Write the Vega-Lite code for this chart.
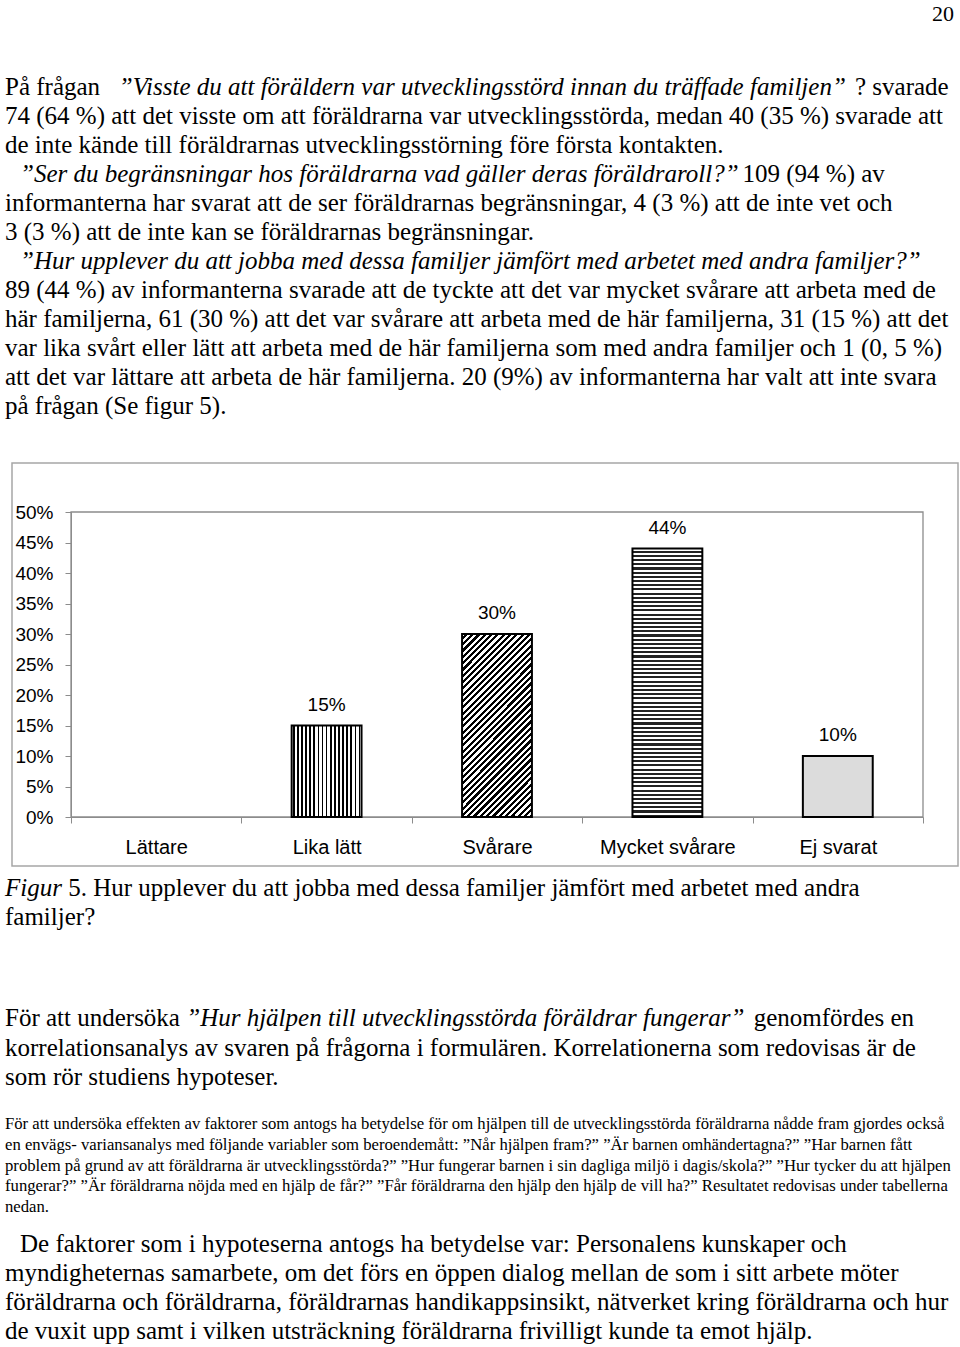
{
"$schema": "https://vega.github.io/schema/vega-lite/v6.json",
"width": 960,
"height": 1347,
"autosize": {"type": "none"},
"padding": 0,
"background": "#ffffff",
"config": {"view": {"stroke": null}},
"datasets": {
"sidnr": [{"text": "20"}],
"s1_vanlig": [
{"rad": 1, "text": "På frågan"},
{"rad": 2, "text": "74 (64 %) att det visste om att föräldrarna var utvecklingsstörda, medan 40 (35 %) svarade att"},
{"rad": 3, "text": "de inte kände till föräldrarnas utvecklingsstörning före första kontakten."},
{"rad": 5, "text": "informanterna har svarat att de ser föräldrarnas begränsningar, 4 (3 %) att de inte vet och"},
{"rad": 6, "text": "3 (3 %) att de inte kan se föräldrarnas begränsningar."},
{"rad": 8, "text": "89 (44 %) av informanterna svarade att de tyckte att det var mycket svårare att arbeta med de"},
{"rad": 9, "text": "här familjerna, 61 (30 %) att det var svårare att arbeta med de här familjerna, 31 (15 %) att det"},
{"rad": 10, "text": "var lika svårt eller lätt att arbeta med de här familjerna som med andra familjer och 1 (0, 5 %)"},
{"rad": 11, "text": "att det var lättare att arbeta de här familjerna. 20 (9%) av informanterna har valt att inte svara"},
{"rad": 12, "text": "på frågan (Se figur 5)."}
],
"s1_fraga": [
{"rad": 4, "text": "”Ser du begränsningar hos föräldrarna vad gäller deras föräldraroll?”"},
{"rad": 7, "text": "”Hur upplever du att jobba med dessa familjer jämfört med arbetet med andra familjer?”"}
],
"s1_r1_fraga": [{"rad": 1, "text": "”Visste du att föräldern var utvecklingsstörd innan du träffade familjen”"}],
"s1_r1_slut": [{"rad": 1, "text": "? svarade"}],
"s1_r4_slut": [{"rad": 4, "text": "109 (94 %) av"}],
"fig_kursiv": [{"rad": 1, "text": "Figur"}],
"fig_text": [{"rad": 1, "text": "5. Hur upplever du att jobba med dessa familjer jämfört med arbetet med andra"}],
"fig_vanlig": [{"rad": 2, "text": "familjer?"}],
"s3_vanlig": [
{"rad": 1, "text": "För att undersöka"},
{"rad": 2, "text": "korrelationsanalys av svaren på frågorna i formulären. Korrelationerna som redovisas är de"},
{"rad": 3, "text": "som rör studiens hypoteser."}
],
"s3_fraga": [{"rad": 1, "text": "”Hur hjälpen till utvecklingsstörda föräldrar fungerar”"}],
"s3_slut": [{"rad": 1, "text": "genomfördes en"}],
"fot": [
{"rad": 1, "text": "För att undersöka effekten av faktorer som antogs ha betydelse för om hjälpen till de utvecklingsstörda föräldrarna nådde fram gjordes också"},
{"rad": 2, "text": "en envägs- variansanalys med följande variabler som beroendemått: ”Når hjälpen fram?” ”Är barnen omhändertagna?” ”Har barnen fått"},
{"rad": 3, "text": "problem på grund av att föräldrarna är utvecklingsstörda?” ”Hur fungerar barnen i sin dagliga miljö i dagis/skola?” ”Hur tycker du att hjälpen"},
{"rad": 4, "text": "fungerar?” ”Är föräldrarna nöjda med en hjälp de får?” ”Får föräldrarna den hjälp den hjälp de vill ha?” Resultatet redovisas under tabellerna"},
{"rad": 5, "text": "nedan."}
],
"s5_indrag": [{"rad": 1, "text": "De faktorer som i hypoteserna antogs ha betydelse var: Personalens kunskaper och"}],
"s5_vanlig": [
{"rad": 2, "text": "myndigheternas samarbete, om det förs en öppen dialog mellan de som i sitt arbete möter"},
{"rad": 3, "text": "föräldrarna och föräldrarna, föräldrarnas handikappsinsikt, nätverket kring föräldrarna och hur"},
{"rad": 4, "text": "de vuxit upp samt i vilken utsträckning föräldrarna frivilligt kunde ta emot hjälp."}
],
"diagram": [
{"svar": "Lättare", "andel": 0},
{"svar": "Lika lätt", "andel": 0.15},
{"svar": "Svårare", "andel": 0.30},
{"svar": "Mycket svårare", "andel": 0.44},
{"svar": "Ej svarat", "andel": 0.10}
]
},
"resolve": {"scale": {"x": "independent", "y": "independent"}},
"layer": [
{
"data": {"name": "sidnr"},
"mark": {"type": "text", "align": "right", "baseline": "middle", "font": "Liberation Serif", "fontSize": 22, "fill": "#000"},
"encoding": {
"x": {"datum": 1, "type": "quantitative", "scale": {"domain": [0, 1], "range": [0, 954], "nice": false, "zero": false}, "axis": null},
"y": {"datum": 1, "type": "quantitative", "scale": {"domain": [0, 1], "range": [0, 14], "nice": false, "zero": false}, "axis": null},
"text": {"field": "text", "type": "nominal"}
}
},
{
"data": {"name": "s1_vanlig"},
"mark": {"type": "text", "align": "left", "baseline": "middle", "font": "Liberation Serif", "fontSize": 25, "fill": "#000"},
"encoding": {
"x": {"datum": 0, "type": "quantitative", "scale": {"domain": [0, 37.8], "range": [5, 950], "nice": false, "zero": false}, "axis": null},
"y": {"field": "rad", "type": "quantitative", "scale": {"domain": [1, 12], "range": [87, 406], "nice": false, "zero": false}, "axis": null},
"text": {"field": "text", "type": "nominal"}
}
},
{
"data": {"name": "s1_fraga"},
"mark": {"type": "text", "align": "left", "baseline": "middle", "font": "Liberation Serif", "fontSize": 25, "fontStyle": "italic", "fill": "#000"},
"encoding": {
"x": {"datum": 0.6, "type": "quantitative", "scale": {"domain": [0, 37.8], "range": [5, 950], "nice": false, "zero": false}, "axis": null},
"y": {"field": "rad", "type": "quantitative", "scale": {"domain": [1, 12], "range": [87, 406], "nice": false, "zero": false}, "axis": null},
"text": {"field": "text", "type": "nominal"}
}
},
{
"data": {"name": "s1_r1_fraga"},
"mark": {"type": "text", "align": "left", "baseline": "middle", "font": "Liberation Serif", "fontSize": 25, "fontStyle": "italic", "fill": "#000"},
"encoding": {
"x": {"datum": 4.55, "type": "quantitative", "scale": {"domain": [0, 37.8], "range": [5, 950], "nice": false, "zero": false}, "axis": null},
"y": {"field": "rad", "type": "quantitative", "scale": {"domain": [1, 12], "range": [87, 406], "nice": false, "zero": false}, "axis": null},
"text": {"field": "text", "type": "nominal"}
}
},
{
"data": {"name": "s1_r1_slut"},
"mark": {"type": "text", "align": "left", "baseline": "middle", "font": "Liberation Serif", "fontSize": 25, "fill": "#000"},
"encoding": {
"x": {"datum": 34.0, "type": "quantitative", "scale": {"domain": [0, 37.8], "range": [5, 950], "nice": false, "zero": false}, "axis": null},
"y": {"field": "rad", "type": "quantitative", "scale": {"domain": [1, 12], "range": [87, 406], "nice": false, "zero": false}, "axis": null},
"text": {"field": "text", "type": "nominal"}
}
},
{
"data": {"name": "s1_r4_slut"},
"mark": {"type": "text", "align": "left", "baseline": "middle", "font": "Liberation Serif", "fontSize": 25, "fill": "#000"},
"encoding": {
"x": {"datum": 29.5, "type": "quantitative", "scale": {"domain": [0, 37.8], "range": [5, 950], "nice": false, "zero": false}, "axis": null},
"y": {"field": "rad", "type": "quantitative", "scale": {"domain": [1, 12], "range": [87, 406], "nice": false, "zero": false}, "axis": null},
"text": {"field": "text", "type": "nominal"}
}
},
{
"data": {"name": "fig_kursiv"},
"mark": {"type": "text", "align": "left", "baseline": "middle", "font": "Liberation Serif", "fontSize": 25, "fontStyle": "italic", "fill": "#000"},
"encoding": {
"x": {"datum": 0, "type": "quantitative", "scale": {"domain": [0, 37.8], "range": [5, 950], "nice": false, "zero": false}, "axis": null},
"y": {"field": "rad", "type": "quantitative", "scale": {"domain": [1, 2], "range": [888, 917], "nice": false, "zero": false}, "axis": null},
"text": {"field": "text", "type": "nominal"}
}
},
{
"data": {"name": "fig_text"},
"mark": {"type": "text", "align": "left", "baseline": "middle", "font": "Liberation Serif", "fontSize": 25, "fill": "#000"},
"encoding": {
"x": {"datum": 2.528, "type": "quantitative", "scale": {"domain": [0, 37.8], "range": [5, 950], "nice": false, "zero": false}, "axis": null},
"y": {"field": "rad", "type": "quantitative", "scale": {"domain": [1, 2], "range": [888, 917], "nice": false, "zero": false}, "axis": null},
"text": {"field": "text", "type": "nominal"}
}
},
{
"data": {"name": "fig_vanlig"},
"mark": {"type": "text", "align": "left", "baseline": "middle", "font": "Liberation Serif", "fontSize": 25, "fill": "#000"},
"encoding": {
"x": {"datum": 0, "type": "quantitative", "scale": {"domain": [0, 37.8], "range": [5, 950], "nice": false, "zero": false}, "axis": null},
"y": {"field": "rad", "type": "quantitative", "scale": {"domain": [1, 2], "range": [888, 917], "nice": false, "zero": false}, "axis": null},
"text": {"field": "text", "type": "nominal"}
}
},
{
"data": {"name": "s3_vanlig"},
"mark": {"type": "text", "align": "left", "baseline": "middle", "font": "Liberation Serif", "fontSize": 25, "fill": "#000"},
"encoding": {
"x": {"datum": 0, "type": "quantitative", "scale": {"domain": [0, 37.8], "range": [5, 950], "nice": false, "zero": false}, "axis": null},
"y": {"field": "rad", "type": "quantitative", "scale": {"domain": [1, 3], "range": [1018, 1077], "nice": false, "zero": false}, "axis": null},
"text": {"field": "text", "type": "nominal"}
}
},
{
"data": {"name": "s3_fraga"},
"mark": {"type": "text", "align": "left", "baseline": "middle", "font": "Liberation Serif", "fontSize": 25, "fontStyle": "italic", "fill": "#000"},
"encoding": {
"x": {"datum": 7.249, "type": "quantitative", "scale": {"domain": [0, 37.8], "range": [5, 950], "nice": false, "zero": false}, "axis": null},
"y": {"field": "rad", "type": "quantitative", "scale": {"domain": [1, 3], "range": [1018, 1077], "nice": false, "zero": false}, "axis": null},
"text": {"field": "text", "type": "nominal"}
}
},
{
"data": {"name": "s3_slut"},
"mark": {"type": "text", "align": "left", "baseline": "middle", "font": "Liberation Serif", "fontSize": 25, "fill": "#000"},
"encoding": {
"x": {"datum": 29.95, "type": "quantitative", "scale": {"domain": [0, 37.8], "range": [5, 950], "nice": false, "zero": false}, "axis": null},
"y": {"field": "rad", "type": "quantitative", "scale": {"domain": [1, 3], "range": [1018, 1077], "nice": false, "zero": false}, "axis": null},
"text": {"field": "text", "type": "nominal"}
}
},
{
"data": {"name": "fot"},
"mark": {"type": "text", "align": "left", "baseline": "middle", "font": "Liberation Serif", "fontSize": 16.7, "fill": "#000"},
"encoding": {
"x": {"datum": 0, "type": "quantitative", "scale": {"domain": [0, 37.8], "range": [5, 950], "nice": false, "zero": false}, "axis": null},
"y": {"field": "rad", "type": "quantitative", "scale": {"domain": [1, 5], "range": [1124, 1207], "nice": false, "zero": false}, "axis": null},
"text": {"field": "text", "type": "nominal"}
}
},
{
"data": {"name": "s5_indrag"},
"mark": {"type": "text", "align": "left", "baseline": "middle", "font": "Liberation Serif", "fontSize": 25, "fill": "#000"},
"encoding": {
"x": {"datum": 0.6, "type": "quantitative", "scale": {"domain": [0, 37.8], "range": [5, 950], "nice": false, "zero": false}, "axis": null},
"y": {"field": "rad", "type": "quantitative", "scale": {"domain": [1, 4], "range": [1244, 1331], "nice": false, "zero": false}, "axis": null},
"text": {"field": "text", "type": "nominal"}
}
},
{
"data": {"name": "s5_vanlig"},
"mark": {"type": "text", "align": "left", "baseline": "middle", "font": "Liberation Serif", "fontSize": 25, "fill": "#000"},
"encoding": {
"x": {"datum": 0, "type": "quantitative", "scale": {"domain": [0, 37.8], "range": [5, 950], "nice": false, "zero": false}, "axis": null},
"y": {"field": "rad", "type": "quantitative", "scale": {"domain": [1, 4], "range": [1244, 1331], "nice": false, "zero": false}, "axis": null},
"text": {"field": "text", "type": "nominal"}
}
},
{
"data": {"values": [{}]},
"mark": {"type": "rect", "fill": "#ffffff", "fillOpacity": 0, "stroke": "#a6a6a6", "strokeWidth": 1.5},
"encoding": {
"x": {"datum": 0, "type": "quantitative", "scale": {"domain": [0, 1], "range": [12, 958], "nice": false, "zero": false}, "axis": null},
"x2": {"datum": 1},
"y": {"datum": 0, "type": "quantitative", "scale": {"domain": [0, 1], "range": [463, 866], "nice": false, "zero": false}, "axis": null},
"y2": {"datum": 1}
}
},
{
"data": {"values": [{}]},
"mark": {"type": "rect", "fill": "#ffffff", "fillOpacity": 0, "stroke": "#8c8c8c", "strokeWidth": 1.3},
"encoding": {
"x": {"datum": 0, "type": "quantitative", "scale": {"domain": [0, 1], "range": [71, 923], "nice": false, "zero": false}, "axis": null},
"x2": {"datum": 1},
"y": {"datum": 0, "type": "quantitative", "scale": {"domain": [0, 1], "range": [817, 512], "nice": false, "zero": false}, "axis": null},
"y2": {"datum": 1}
}
},
{
"data": {"name": "diagram"},
"encoding": {
"x": {"field": "svar", "type": "nominal", "sort": null,
"scale": {"type": "band", "domain": ["Lättare", "Lika lätt", "Svårare", "Mycket svårare", "Ej svarat"], "range": [71, 923], "paddingInner": 0, "paddingOuter": 0},
"axis": {"title": null, "orient": "bottom", "offset": -530, "tickBand": "extent", "labelAngle": 0, "labelFont": "Liberation Sans", "labelFontSize": 20, "labelColor": "#000", "labelPadding": 24, "labelBaseline": "middle", "tickSize": 6, "tickColor": "#8c8c8c", "domainColor": "#8c8c8c", "grid": false}},
"y": {"field": "andel", "type": "quantitative",
"scale": {"domain": [0, 0.5], "range": [817, 512], "nice": false, "zero": false},
"axis": {"title": null, "orient": "left", "offset": -71, "values": [0, 0.05, 0.1, 0.15, 0.2, 0.25, 0.3, 0.35, 0.4, 0.45, 0.5], "format": ".0%", "labelFont": "Liberation Sans", "labelFontSize": 19, "labelColor": "#000", "labelPadding": 12, "tickSize": 6, "tickColor": "#8c8c8c", "domainColor": "#8c8c8c", "grid": false}}
},
"layer": [
{
"transform": [{"filter": "datum.svar === 'Lika lätt'"}],
"mark": {"type": "bar", "width": {"band": 0.41}, "stroke": "#000", "strokeWidth": 2,
"fill": {"gradient": "linear", "x1": 0, "y1": 0, "x2": 1, "y2": 0, "stops": [
{"offset": 0, "color": "#fff"},
{"offset": 0.0176, "color": "#fff"}, {"offset": 0.0176, "color": "#000"}, {"offset": 0.0412, "color": "#000"}, {"offset": 0.0412, "color": "#fff"},
{"offset": 0.0765, "color": "#fff"}, {"offset": 0.0765, "color": "#000"}, {"offset": 0.1, "color": "#000"}, {"offset": 0.1, "color": "#fff"},
{"offset": 0.1353, "color": "#fff"}, {"offset": 0.1353, "color": "#000"}, {"offset": 0.1588, "color": "#000"}, {"offset": 0.1588, "color": "#fff"},
{"offset": 0.1941, "color": "#fff"}, {"offset": 0.1941, "color": "#000"}, {"offset": 0.2176, "color": "#000"}, {"offset": 0.2176, "color": "#fff"},
{"offset": 0.2529, "color": "#fff"}, {"offset": 0.2529, "color": "#000"}, {"offset": 0.2765, "color": "#000"}, {"offset": 0.2765, "color": "#fff"},
{"offset": 0.3118, "color": "#fff"}, {"offset": 0.3118, "color": "#000"}, {"offset": 0.3353, "color": "#000"}, {"offset": 0.3353, "color": "#fff"},
{"offset": 0.3706, "color": "#fff"}, {"offset": 0.3706, "color": "#000"}, {"offset": 0.3941, "color": "#000"}, {"offset": 0.3941, "color": "#fff"},
{"offset": 0.4294, "color": "#fff"}, {"offset": 0.4294, "color": "#000"}, {"offset": 0.4529, "color": "#000"}, {"offset": 0.4529, "color": "#fff"},
{"offset": 0.4882, "color": "#fff"}, {"offset": 0.4882, "color": "#000"}, {"offset": 0.5118, "color": "#000"}, {"offset": 0.5118, "color": "#fff"},
{"offset": 0.5471, "color": "#fff"}, {"offset": 0.5471, "color": "#000"}, {"offset": 0.5706, "color": "#000"}, {"offset": 0.5706, "color": "#fff"},
{"offset": 0.6059, "color": "#fff"}, {"offset": 0.6059, "color": "#000"}, {"offset": 0.6294, "color": "#000"}, {"offset": 0.6294, "color": "#fff"},
{"offset": 0.6647, "color": "#fff"}, {"offset": 0.6647, "color": "#000"}, {"offset": 0.6882, "color": "#000"}, {"offset": 0.6882, "color": "#fff"},
{"offset": 0.7235, "color": "#fff"}, {"offset": 0.7235, "color": "#000"}, {"offset": 0.7471, "color": "#000"}, {"offset": 0.7471, "color": "#fff"},
{"offset": 0.7824, "color": "#fff"}, {"offset": 0.7824, "color": "#000"}, {"offset": 0.8059, "color": "#000"}, {"offset": 0.8059, "color": "#fff"},
{"offset": 0.8412, "color": "#fff"}, {"offset": 0.8412, "color": "#000"}, {"offset": 0.8647, "color": "#000"}, {"offset": 0.8647, "color": "#fff"},
{"offset": 0.9, "color": "#fff"}, {"offset": 0.9, "color": "#000"}, {"offset": 0.9235, "color": "#000"}, {"offset": 0.9235, "color": "#fff"},
{"offset": 0.9588, "color": "#fff"}, {"offset": 0.9588, "color": "#000"}, {"offset": 0.9824, "color": "#000"}, {"offset": 0.9824, "color": "#fff"},
{"offset": 1, "color": "#fff"}
]}}
},
{
"transform": [{"filter": "datum.svar === 'Svårare'"}],
"mark": {"type": "bar", "width": {"band": 0.41}, "stroke": "#000", "strokeWidth": 2,
"fill": {"gradient": "linear", "x1": 0, "y1": 0, "x2": 0.4613, "y2": 1.2061, "stops": [
{"offset": 0, "color": "#fff"},
{"offset": 0.0125, "color": "#fff"}, {"offset": 0.0125, "color": "#000"}, {"offset": 0.025, "color": "#000"}, {"offset": 0.025, "color": "#fff"},
{"offset": 0.0375, "color": "#fff"}, {"offset": 0.0375, "color": "#000"}, {"offset": 0.05, "color": "#000"}, {"offset": 0.05, "color": "#fff"},
{"offset": 0.0625, "color": "#fff"}, {"offset": 0.0625, "color": "#000"}, {"offset": 0.075, "color": "#000"}, {"offset": 0.075, "color": "#fff"},
{"offset": 0.0875, "color": "#fff"}, {"offset": 0.0875, "color": "#000"}, {"offset": 0.1, "color": "#000"}, {"offset": 0.1, "color": "#fff"},
{"offset": 0.1125, "color": "#fff"}, {"offset": 0.1125, "color": "#000"}, {"offset": 0.125, "color": "#000"}, {"offset": 0.125, "color": "#fff"},
{"offset": 0.1375, "color": "#fff"}, {"offset": 0.1375, "color": "#000"}, {"offset": 0.15, "color": "#000"}, {"offset": 0.15, "color": "#fff"},
{"offset": 0.1625, "color": "#fff"}, {"offset": 0.1625, "color": "#000"}, {"offset": 0.175, "color": "#000"}, {"offset": 0.175, "color": "#fff"},
{"offset": 0.1875, "color": "#fff"}, {"offset": 0.1875, "color": "#000"}, {"offset": 0.2, "color": "#000"}, {"offset": 0.2, "color": "#fff"},
{"offset": 0.2125, "color": "#fff"}, {"offset": 0.2125, "color": "#000"}, {"offset": 0.225, "color": "#000"}, {"offset": 0.225, "color": "#fff"},
{"offset": 0.2375, "color": "#fff"}, {"offset": 0.2375, "color": "#000"}, {"offset": 0.25, "color": "#000"}, {"offset": 0.25, "color": "#fff"},
{"offset": 0.2625, "color": "#fff"}, {"offset": 0.2625, "color": "#000"}, {"offset": 0.275, "color": "#000"}, {"offset": 0.275, "color": "#fff"},
{"offset": 0.2875, "color": "#fff"}, {"offset": 0.2875, "color": "#000"}, {"offset": 0.3, "color": "#000"}, {"offset": 0.3, "color": "#fff"},
{"offset": 0.3125, "color": "#fff"}, {"offset": 0.3125, "color": "#000"}, {"offset": 0.325, "color": "#000"}, {"offset": 0.325, "color": "#fff"},
{"offset": 0.3375, "color": "#fff"}, {"offset": 0.3375, "color": "#000"}, {"offset": 0.35, "color": "#000"}, {"offset": 0.35, "color": "#fff"},
{"offset": 0.3625, "color": "#fff"}, {"offset": 0.3625, "color": "#000"}, {"offset": 0.375, "color": "#000"}, {"offset": 0.375, "color": "#fff"},
{"offset": 0.3875, "color": "#fff"}, {"offset": 0.3875, "color": "#000"}, {"offset": 0.4, "color": "#000"}, {"offset": 0.4, "color": "#fff"},
{"offset": 0.4125, "color": "#fff"}, {"offset": 0.4125, "color": "#000"}, {"offset": 0.425, "color": "#000"}, {"offset": 0.425, "color": "#fff"},
{"offset": 0.4375, "color": "#fff"}, {"offset": 0.4375, "color": "#000"}, {"offset": 0.45, "color": "#000"}, {"offset": 0.45, "color": "#fff"},
{"offset": 0.4625, "color": "#fff"}, {"offset": 0.4625, "color": "#000"}, {"offset": 0.475, "color": "#000"}, {"offset": 0.475, "color": "#fff"},
{"offset": 0.4875, "color": "#fff"}, {"offset": 0.4875, "color": "#000"}, {"offset": 0.5, "color": "#000"}, {"offset": 0.5, "color": "#fff"},
{"offset": 0.5125, "color": "#fff"}, {"offset": 0.5125, "color": "#000"}, {"offset": 0.525, "color": "#000"}, {"offset": 0.525, "color": "#fff"},
{"offset": 0.5375, "color": "#fff"}, {"offset": 0.5375, "color": "#000"}, {"offset": 0.55, "color": "#000"}, {"offset": 0.55, "color": "#fff"},
{"offset": 0.5625, "color": "#fff"}, {"offset": 0.5625, "color": "#000"}, {"offset": 0.575, "color": "#000"}, {"offset": 0.575, "color": "#fff"},
{"offset": 0.5875, "color": "#fff"}, {"offset": 0.5875, "color": "#000"}, {"offset": 0.6, "color": "#000"}, {"offset": 0.6, "color": "#fff"},
{"offset": 0.6125, "color": "#fff"}, {"offset": 0.6125, "color": "#000"}, {"offset": 0.625, "color": "#000"}, {"offset": 0.625, "color": "#fff"},
{"offset": 0.6375, "color": "#fff"}, {"offset": 0.6375, "color": "#000"}, {"offset": 0.65, "color": "#000"}, {"offset": 0.65, "color": "#fff"},
{"offset": 0.6625, "color": "#fff"}, {"offset": 0.6625, "color": "#000"}, {"offset": 0.675, "color": "#000"}, {"offset": 0.675, "color": "#fff"},
{"offset": 0.6875, "color": "#fff"}, {"offset": 0.6875, "color": "#000"}, {"offset": 0.7, "color": "#000"}, {"offset": 0.7, "color": "#fff"},
{"offset": 0.7125, "color": "#fff"}, {"offset": 0.7125, "color": "#000"}, {"offset": 0.725, "color": "#000"}, {"offset": 0.725, "color": "#fff"},
{"offset": 0.7375, "color": "#fff"}, {"offset": 0.7375, "color": "#000"}, {"offset": 0.75, "color": "#000"}, {"offset": 0.75, "color": "#fff"},
{"offset": 0.7625, "color": "#fff"}, {"offset": 0.7625, "color": "#000"}, {"offset": 0.775, "color": "#000"}, {"offset": 0.775, "color": "#fff"},
{"offset": 0.7875, "color": "#fff"}, {"offset": 0.7875, "color": "#000"}, {"offset": 0.8, "color": "#000"}, {"offset": 0.8, "color": "#fff"},
{"offset": 0.8125, "color": "#fff"}, {"offset": 0.8125, "color": "#000"}, {"offset": 0.825, "color": "#000"}, {"offset": 0.825, "color": "#fff"},
{"offset": 0.8375, "color": "#fff"}, {"offset": 0.8375, "color": "#000"}, {"offset": 0.85, "color": "#000"}, {"offset": 0.85, "color": "#fff"},
{"offset": 0.8625, "color": "#fff"}, {"offset": 0.8625, "color": "#000"}, {"offset": 0.875, "color": "#000"}, {"offset": 0.875, "color": "#fff"},
{"offset": 0.8875, "color": "#fff"}, {"offset": 0.8875, "color": "#000"}, {"offset": 0.9, "color": "#000"}, {"offset": 0.9, "color": "#fff"},
{"offset": 0.9125, "color": "#fff"}, {"offset": 0.9125, "color": "#000"}, {"offset": 0.925, "color": "#000"}, {"offset": 0.925, "color": "#fff"},
{"offset": 0.9375, "color": "#fff"}, {"offset": 0.9375, "color": "#000"}, {"offset": 0.95, "color": "#000"}, {"offset": 0.95, "color": "#fff"},
{"offset": 0.9625, "color": "#fff"}, {"offset": 0.9625, "color": "#000"}, {"offset": 0.975, "color": "#000"}, {"offset": 0.975, "color": "#fff"},
{"offset": 0.9875, "color": "#fff"}, {"offset": 0.9875, "color": "#000"}, {"offset": 1, "color": "#000"}
]}}
},
{
"transform": [{"filter": "datum.svar === 'Mycket svårare'"}],
"mark": {"type": "bar", "width": {"band": 0.41}, "stroke": "#000", "strokeWidth": 2,
"fill": {"gradient": "linear", "x1": 0, "y1": 0, "x2": 0, "y2": 1.561, "stops": [
{"offset": 0, "color": "#fff"},
{"offset": 0.005, "color": "#fff"}, {"offset": 0.005, "color": "#222"}, {"offset": 0.01, "color": "#222"}, {"offset": 0.01, "color": "#fff"},
{"offset": 0.015, "color": "#fff"}, {"offset": 0.015, "color": "#222"}, {"offset": 0.02, "color": "#222"}, {"offset": 0.02, "color": "#fff"},
{"offset": 0.025, "color": "#fff"}, {"offset": 0.025, "color": "#222"}, {"offset": 0.03, "color": "#222"}, {"offset": 0.03, "color": "#fff"},
{"offset": 0.035, "color": "#fff"}, {"offset": 0.035, "color": "#222"}, {"offset": 0.04, "color": "#222"}, {"offset": 0.04, "color": "#fff"},
{"offset": 0.045, "color": "#fff"}, {"offset": 0.045, "color": "#222"}, {"offset": 0.05, "color": "#222"}, {"offset": 0.05, "color": "#fff"},
{"offset": 0.055, "color": "#fff"}, {"offset": 0.055, "color": "#222"}, {"offset": 0.06, "color": "#222"}, {"offset": 0.06, "color": "#fff"},
{"offset": 0.065, "color": "#fff"}, {"offset": 0.065, "color": "#222"}, {"offset": 0.07, "color": "#222"}, {"offset": 0.07, "color": "#fff"},
{"offset": 0.075, "color": "#fff"}, {"offset": 0.075, "color": "#222"}, {"offset": 0.08, "color": "#222"}, {"offset": 0.08, "color": "#fff"},
{"offset": 0.085, "color": "#fff"}, {"offset": 0.085, "color": "#222"}, {"offset": 0.09, "color": "#222"}, {"offset": 0.09, "color": "#fff"},
{"offset": 0.095, "color": "#fff"}, {"offset": 0.095, "color": "#222"}, {"offset": 0.1, "color": "#222"}, {"offset": 0.1, "color": "#fff"},
{"offset": 0.105, "color": "#fff"}, {"offset": 0.105, "color": "#222"}, {"offset": 0.11, "color": "#222"}, {"offset": 0.11, "color": "#fff"},
{"offset": 0.115, "color": "#fff"}, {"offset": 0.115, "color": "#222"}, {"offset": 0.12, "color": "#222"}, {"offset": 0.12, "color": "#fff"},
{"offset": 0.125, "color": "#fff"}, {"offset": 0.125, "color": "#222"}, {"offset": 0.13, "color": "#222"}, {"offset": 0.13, "color": "#fff"},
{"offset": 0.135, "color": "#fff"}, {"offset": 0.135, "color": "#222"}, {"offset": 0.14, "color": "#222"}, {"offset": 0.14, "color": "#fff"},
{"offset": 0.145, "color": "#fff"}, {"offset": 0.145, "color": "#222"}, {"offset": 0.15, "color": "#222"}, {"offset": 0.15, "color": "#fff"},
{"offset": 0.155, "color": "#fff"}, {"offset": 0.155, "color": "#222"}, {"offset": 0.16, "color": "#222"}, {"offset": 0.16, "color": "#fff"},
{"offset": 0.165, "color": "#fff"}, {"offset": 0.165, "color": "#222"}, {"offset": 0.17, "color": "#222"}, {"offset": 0.17, "color": "#fff"},
{"offset": 0.175, "color": "#fff"}, {"offset": 0.175, "color": "#222"}, {"offset": 0.18, "color": "#222"}, {"offset": 0.18, "color": "#fff"},
{"offset": 0.185, "color": "#fff"}, {"offset": 0.185, "color": "#222"}, {"offset": 0.19, "color": "#222"}, {"offset": 0.19, "color": "#fff"},
{"offset": 0.195, "color": "#fff"}, {"offset": 0.195, "color": "#222"}, {"offset": 0.2, "color": "#222"}, {"offset": 0.2, "color": "#fff"},
{"offset": 0.205, "color": "#fff"}, {"offset": 0.205, "color": "#222"}, {"offset": 0.21, "color": "#222"}, {"offset": 0.21, "color": "#fff"},
{"offset": 0.215, "color": "#fff"}, {"offset": 0.215, "color": "#222"}, {"offset": 0.22, "color": "#222"}, {"offset": 0.22, "color": "#fff"},
{"offset": 0.225, "color": "#fff"}, {"offset": 0.225, "color": "#222"}, {"offset": 0.23, "color": "#222"}, {"offset": 0.23, "color": "#fff"},
{"offset": 0.235, "color": "#fff"}, {"offset": 0.235, "color": "#222"}, {"offset": 0.24, "color": "#222"}, {"offset": 0.24, "color": "#fff"},
{"offset": 0.245, "color": "#fff"}, {"offset": 0.245, "color": "#222"}, {"offset": 0.25, "color": "#222"}, {"offset": 0.25, "color": "#fff"},
{"offset": 0.255, "color": "#fff"}, {"offset": 0.255, "color": "#222"}, {"offset": 0.26, "color": "#222"}, {"offset": 0.26, "color": "#fff"},
{"offset": 0.265, "color": "#fff"}, {"offset": 0.265, "color": "#222"}, {"offset": 0.27, "color": "#222"}, {"offset": 0.27, "color": "#fff"},
{"offset": 0.275, "color": "#fff"}, {"offset": 0.275, "color": "#222"}, {"offset": 0.28, "color": "#222"}, {"offset": 0.28, "color": "#fff"},
{"offset": 0.285, "color": "#fff"}, {"offset": 0.285, "color": "#222"}, {"offset": 0.29, "color": "#222"}, {"offset": 0.29, "color": "#fff"},
{"offset": 0.295, "color": "#fff"}, {"offset": 0.295, "color": "#222"}, {"offset": 0.3, "color": "#222"}, {"offset": 0.3, "color": "#fff"},
{"offset": 0.305, "color": "#fff"}, {"offset": 0.305, "color": "#222"}, {"offset": 0.31, "color": "#222"}, {"offset": 0.31, "color": "#fff"},
{"offset": 0.315, "color": "#fff"}, {"offset": 0.315, "color": "#222"}, {"offset": 0.32, "color": "#222"}, {"offset": 0.32, "color": "#fff"},
{"offset": 0.325, "color": "#fff"}, {"offset": 0.325, "color": "#222"}, {"offset": 0.33, "color": "#222"}, {"offset": 0.33, "color": "#fff"},
{"offset": 0.335, "color": "#fff"}, {"offset": 0.335, "color": "#222"}, {"offset": 0.34, "color": "#222"}, {"offset": 0.34, "color": "#fff"},
{"offset": 0.345, "color": "#fff"}, {"offset": 0.345, "color": "#222"}, {"offset": 0.35, "color": "#222"}, {"offset": 0.35, "color": "#fff"},
{"offset": 0.355, "color": "#fff"}, {"offset": 0.355, "color": "#222"}, {"offset": 0.36, "color": "#222"}, {"offset": 0.36, "color": "#fff"},
{"offset": 0.365, "color": "#fff"}, {"offset": 0.365, "color": "#222"}, {"offset": 0.37, "color": "#222"}, {"offset": 0.37, "color": "#fff"},
{"offset": 0.375, "color": "#fff"}, {"offset": 0.375, "color": "#222"}, {"offset": 0.38, "color": "#222"}, {"offset": 0.38, "color": "#fff"},
{"offset": 0.385, "color": "#fff"}, {"offset": 0.385, "color": "#222"}, {"offset": 0.39, "color": "#222"}, {"offset": 0.39, "color": "#fff"},
{"offset": 0.395, "color": "#fff"}, {"offset": 0.395, "color": "#222"}, {"offset": 0.4, "color": "#222"}, {"offset": 0.4, "color": "#fff"},
{"offset": 0.405, "color": "#fff"}, {"offset": 0.405, "color": "#222"}, {"offset": 0.41, "color": "#222"}, {"offset": 0.41, "color": "#fff"},
{"offset": 0.415, "color": "#fff"}, {"offset": 0.415, "color": "#222"}, {"offset": 0.42, "color": "#222"}, {"offset": 0.42, "color": "#fff"},
{"offset": 0.425, "color": "#fff"}, {"offset": 0.425, "color": "#222"}, {"offset": 0.43, "color": "#222"}, {"offset": 0.43, "color": "#fff"},
{"offset": 0.435, "color": "#fff"}, {"offset": 0.435, "color": "#222"}, {"offset": 0.44, "color": "#222"}, {"offset": 0.44, "color": "#fff"},
{"offset": 0.445, "color": "#fff"}, {"offset": 0.445, "color": "#222"}, {"offset": 0.45, "color": "#222"}, {"offset": 0.45, "color": "#fff"},
{"offset": 0.455, "color": "#fff"}, {"offset": 0.455, "color": "#222"}, {"offset": 0.46, "color": "#222"}, {"offset": 0.46, "color": "#fff"},
{"offset": 0.465, "color": "#fff"}, {"offset": 0.465, "color": "#222"}, {"offset": 0.47, "color": "#222"}, {"offset": 0.47, "color": "#fff"},
{"offset": 0.475, "color": "#fff"}, {"offset": 0.475, "color": "#222"}, {"offset": 0.48, "color": "#222"}, {"offset": 0.48, "color": "#fff"},
{"offset": 0.485, "color": "#fff"}, {"offset": 0.485, "color": "#222"}, {"offset": 0.49, "color": "#222"}, {"offset": 0.49, "color": "#fff"},
{"offset": 0.495, "color": "#fff"}, {"offset": 0.495, "color": "#222"}, {"offset": 0.5, "color": "#222"}, {"offset": 0.5, "color": "#fff"},
{"offset": 0.505, "color": "#fff"}, {"offset": 0.505, "color": "#222"}, {"offset": 0.51, "color": "#222"}, {"offset": 0.51, "color": "#fff"},
{"offset": 0.515, "color": "#fff"}, {"offset": 0.515, "color": "#222"}, {"offset": 0.52, "color": "#222"}, {"offset": 0.52, "color": "#fff"},
{"offset": 0.525, "color": "#fff"}, {"offset": 0.525, "color": "#222"}, {"offset": 0.53, "color": "#222"}, {"offset": 0.53, "color": "#fff"},
{"offset": 0.535, "color": "#fff"}, {"offset": 0.535, "color": "#222"}, {"offset": 0.54, "color": "#222"}, {"offset": 0.54, "color": "#fff"},
{"offset": 0.545, "color": "#fff"}, {"offset": 0.545, "color": "#222"}, {"offset": 0.55, "color": "#222"}, {"offset": 0.55, "color": "#fff"},
{"offset": 0.555, "color": "#fff"}, {"offset": 0.555, "color": "#222"}, {"offset": 0.56, "color": "#222"}, {"offset": 0.56, "color": "#fff"},
{"offset": 0.565, "color": "#fff"}, {"offset": 0.565, "color": "#222"}, {"offset": 0.57, "color": "#222"}, {"offset": 0.57, "color": "#fff"},
{"offset": 0.575, "color": "#fff"}, {"offset": 0.575, "color": "#222"}, {"offset": 0.58, "color": "#222"}, {"offset": 0.58, "color": "#fff"},
{"offset": 0.585, "color": "#fff"}, {"offset": 0.585, "color": "#222"}, {"offset": 0.59, "color": "#222"}, {"offset": 0.59, "color": "#fff"},
{"offset": 0.595, "color": "#fff"}, {"offset": 0.595, "color": "#222"}, {"offset": 0.6, "color": "#222"}, {"offset": 0.6, "color": "#fff"},
{"offset": 0.605, "color": "#fff"}, {"offset": 0.605, "color": "#222"}, {"offset": 0.61, "color": "#222"}, {"offset": 0.61, "color": "#fff"},
{"offset": 0.615, "color": "#fff"}, {"offset": 0.615, "color": "#222"}, {"offset": 0.62, "color": "#222"}, {"offset": 0.62, "color": "#fff"},
{"offset": 0.625, "color": "#fff"}, {"offset": 0.625, "color": "#222"}, {"offset": 0.63, "color": "#222"}, {"offset": 0.63, "color": "#fff"},
{"offset": 0.635, "color": "#fff"}, {"offset": 0.635, "color": "#222"}, {"offset": 0.64, "color": "#222"}, {"offset": 0.64, "color": "#fff"},
{"offset": 1, "color": "#fff"}
]}}
},
{
"transform": [{"filter": "datum.svar === 'Ej svarat'"}],
"mark": {"type": "bar", "width": {"band": 0.41}, "stroke": "#000", "strokeWidth": 2, "fill": "#dcdcdc"}
},
{
"transform": [{"filter": "datum.andel > 0"}],
"mark": {"type": "text", "align": "center", "baseline": "middle", "dy": -21, "font": "Liberation Sans", "fontSize": 19, "fill": "#000"},
"encoding": {"text": {"field": "andel", "type": "quantitative", "format": ".0%"}}
}
]
}
]
}
